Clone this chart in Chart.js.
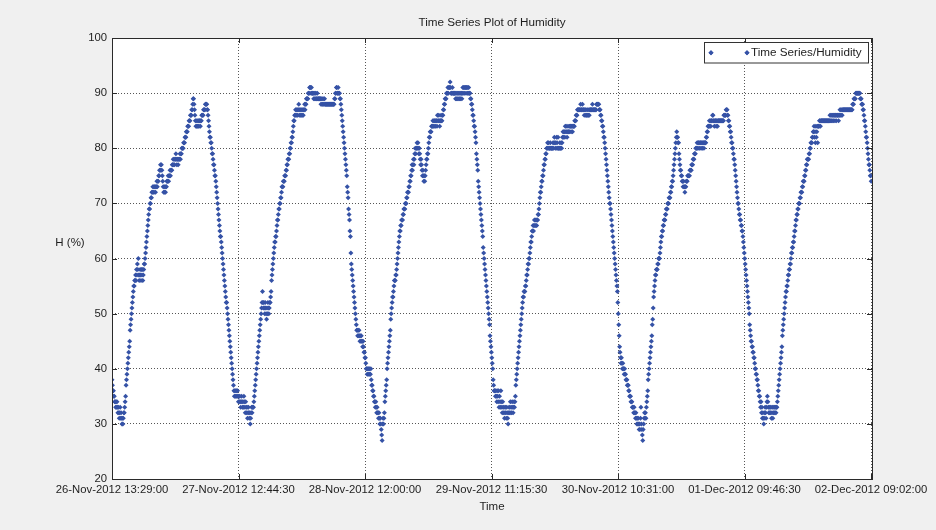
<!DOCTYPE html>
<html>
<head>
<meta charset="utf-8">
<title>Time Series Plot of Humidity</title>
<script src="https://cdn.jsdelivr.net/npm/chart.js@4.4.1/dist/chart.umd.min.js"></script>
<style>
  html, body { margin: 0; padding: 0; background: #f0f0f0; }
  canvas { display: block; }
</style>
</head>
<body>
<canvas id="chart" width="936" height="530"></canvas>
<script>
// Text shown on the figure
const TITLE = 'Time Series Plot of Humidity';
const X_TITLE = 'Time';
const Y_TITLE = 'H (%)';
const SERIES_LABEL = 'Time Series/Humidity';

// Logger settings: one humidity reading every 5 minutes, starting at the first tick
const SAMPLE_MINUTES = 5;
const AXIS_END = '02-Dec-2012 09:13:00';

// Date ticks on the time axis
const tickLabels = [
  '26-Nov-2012 13:29:00',
  '27-Nov-2012 12:44:30',
  '28-Nov-2012 12:00:00',
  '29-Nov-2012 11:15:30',
  '30-Nov-2012 10:31:00',
  '01-Dec-2012 09:46:30',
  '02-Dec-2012 09:02:00'
];

// Y axis range (%)
const yLimits = [20, 100];
const yStep = 10;

// Relative humidity (%), one row per hour of logging (12 readings each)
const humidity = [
  38,37,36,36,35,35,34,34,33,34,33,34,
  33,32,33,32,31,32,33,31,32,31,30,31,
  30,31,32,32,33,34,35,37,38,39,40,41,
  42,43,44,45,47,48,49,50,51,52,53,54,
  55,55,56,56,57,56,58,57,59,58,60,57,
  56,57,58,57,56,58,57,58,56,57,58,59,
  59,60,61,62,63,64,65,66,67,68,69,69,
  70,70,71,71,72,72,73,72,73,72,73,73,
  72,73,73,74,73,74,74,75,75,76,76,77,
  76,77,76,75,74,73,72,73,72,73,72,73,
  73,74,74,74,75,74,75,75,76,75,76,76,
  76,77,77,78,77,78,77,78,78,79,78,77,
  78,78,77,78,78,78,79,78,79,79,80,80,
  80,80,81,81,81,82,82,82,83,83,83,84,
  84,84,85,85,85,86,86,86,87,87,88,89,
  89,88,87,86,85,84,85,84,84,85,84,85,
  84,85,85,84,85,85,86,86,86,86,87,87,
  87,87,88,88,88,88,87,87,86,85,84,83,
  82,82,81,81,80,79,79,78,77,77,76,75,
  75,74,73,72,71,70,69,68,67,66,65,64,
  64,63,62,61,60,59,58,57,56,55,54,53,
  52,52,51,50,49,48,47,46,45,44,43,42,
  41,40,39,38,37,36,35,36,35,36,35,36,
  35,36,35,34,35,34,35,34,33,34,35,34,
  33,34,33,35,34,33,32,34,33,32,33,31,
  32,33,32,31,32,30,31,32,33,32,33,33,
  33,34,35,36,37,38,39,40,41,42,43,44,
  45,46,47,48,49,50,51,52,54,52,51,52,
  51,50,52,51,50,49,51,50,52,51,50,51,
  52,52,53,54,56,57,58,59,60,61,62,63,
  63,64,64,65,66,67,67,68,69,69,70,70,
  71,71,72,73,73,73,74,74,74,75,75,75,
  76,76,77,77,78,78,78,79,79,80,80,81,
  81,82,82,83,84,85,85,86,86,87,86,87,
  86,87,86,87,88,87,86,87,86,87,86,87,
  86,87,86,87,87,88,87,88,88,89,89,89,
  89,90,90,90,91,91,91,90,91,90,90,90,
  90,89,90,89,90,89,90,89,89,90,89,89,
  89,89,89,89,89,88,89,88,89,88,88,89,
  88,89,88,88,88,88,88,88,88,88,88,88,
  88,88,88,88,88,88,88,88,88,88,88,89,
  89,90,90,91,91,90,90,91,90,90,90,89,
  89,88,87,86,85,84,83,82,81,80,79,78,
  77,76,75,73,72,71,69,68,67,65,64,61,
  59,58,57,56,55,54,53,52,51,50,49,48,
  47,47,46,47,46,47,46,45,46,45,46,45,
  45,44,45,44,43,43,42,42,41,40,40,39,
  40,39,40,39,40,39,39,40,38,37,37,36,
  36,35,35,34,34,33,34,33,32,33,32,32,
  31,32,31,30,31,30,29,28,27,30,31,30,
  31,32,34,35,36,37,38,40,41,42,43,44,
  45,46,47,49,50,51,52,53,53,54,55,56,
  56,56,57,57,58,59,60,61,62,63,64,65,
  65,66,66,67,67,67,68,68,69,69,69,70,
  70,70,71,71,72,72,72,73,73,74,74,75,
  75,76,77,76,77,78,77,78,79,80,79,80,
  80,81,80,81,80,79,80,79,78,77,78,77,
  76,75,76,75,74,75,74,75,76,77,78,78,
  79,79,80,81,82,82,83,83,83,84,84,84,
  85,84,85,84,85,85,84,85,85,84,86,85,
  85,86,85,84,85,85,86,85,85,86,86,87,
  87,88,88,89,89,89,90,90,90,91,90,91,
  91,91,92,91,90,90,90,91,90,90,90,90,
  90,90,89,90,89,90,89,90,90,89,90,89,
  90,89,90,90,89,90,91,90,91,91,90,91,
  91,90,91,91,90,91,90,91,90,90,90,89,
  89,88,88,87,86,86,85,84,84,83,82,81,
  79,78,77,76,74,73,72,71,70,69,68,67,
  66,65,64,62,61,60,59,58,57,56,55,54,
  53,52,51,50,49,48,46,45,44,43,42,41,
  40,38,37,36,36,36,35,36,35,34,36,35,
  34,36,33,35,34,33,36,34,33,32,34,33,
  32,33,31,32,33,32,31,33,32,31,30,32,
  33,32,33,34,32,33,32,34,33,32,33,34,
  33,34,35,37,38,39,40,41,42,43,44,45,
  46,47,48,49,50,51,52,53,53,54,54,54,
  55,55,56,57,57,58,59,59,60,60,61,62,
  63,63,64,65,65,66,65,66,67,66,67,66,
  67,66,67,67,68,68,69,70,71,72,72,73,
  74,74,75,75,76,77,77,78,78,79,79,80,
  80,81,80,81,80,80,80,81,80,80,80,80,
  80,81,80,81,82,81,80,81,80,82,81,80,
  82,80,80,80,81,80,80,81,80,81,82,83,
  82,83,83,82,84,83,84,83,82,83,84,83,
  83,84,83,84,84,83,84,84,83,84,84,84,
  84,85,85,85,86,86,86,87,87,87,87,87,
  87,87,88,87,87,87,88,87,87,87,86,87,
  87,86,87,86,86,87,86,86,87,86,87,87,
  87,87,87,87,88,87,87,87,87,87,87,87,
  87,88,88,88,88,88,88,87,87,87,86,86,
  85,85,84,84,83,82,82,81,80,79,78,77,
  76,75,74,73,72,71,70,70,69,68,67,66,
  65,64,63,62,61,60,59,58,57,56,55,54,
  52,50,48,46,44,43,42,41,42,41,40,41,
  40,40,39,40,39,39,38,38,38,37,37,37,
  36,36,35,35,35,34,34,34,33,33,33,32,
  33,32,32,31,32,31,30,31,30,31,30,29,
  30,29,31,33,30,29,28,27,29,30,31,32,
  31,32,31,33,34,35,36,38,39,40,41,42,
  43,44,45,46,48,49,51,53,54,55,56,57,
  57,58,58,58,59,59,60,60,60,61,62,63,
  64,64,65,65,66,66,67,67,67,68,68,69,
  69,69,70,70,70,71,71,71,72,72,73,73,
  74,74,75,76,77,78,79,80,81,82,83,82,
  82,81,81,79,78,77,76,76,75,75,74,74,
  73,74,73,73,72,73,73,74,74,74,75,75,
  75,75,75,76,76,76,76,77,77,77,78,78,
  78,79,79,79,80,80,80,81,80,81,81,80,
  81,80,81,81,80,81,81,80,81,81,80,81,
  81,81,81,82,82,83,83,84,84,84,85,84,
  85,84,85,85,85,86,86,85,85,84,85,85,
  85,84,85,85,84,85,85,85,85,85,85,85,
  85,85,85,85,85,85,86,86,86,86,86,87,
  87,87,86,86,85,85,84,84,83,83,82,81,
  81,80,80,79,78,78,77,76,75,74,73,72,
  71,70,70,69,68,68,67,67,66,66,65,65,
  64,63,62,61,60,59,58,57,56,55,54,53,
  52,51,50,48,47,46,45,45,44,44,43,43,
  42,42,41,40,40,39,39,38,38,37,36,36,
  35,35,34,33,34,32,33,31,32,31,30,31,
  32,33,32,31,33,34,35,34,33,32,33,32,
  33,32,33,31,32,33,31,32,33,32,33,32,
  33,32,33,33,34,35,36,37,38,39,40,41,
  42,43,44,46,47,48,49,50,51,52,53,54,
  54,55,55,56,57,57,58,58,59,59,60,61,
  61,62,62,63,63,64,65,65,66,67,67,68,
  68,69,69,70,70,70,71,71,72,72,72,73,
  73,74,74,74,75,75,76,76,77,77,78,78,
  78,78,79,79,80,80,81,81,81,82,82,83,
  83,84,82,83,81,84,82,83,84,81,84,84,
  84,85,85,84,85,85,85,85,85,85,85,85,
  85,85,85,85,85,85,85,85,85,85,85,85,
  86,85,86,85,86,85,86,86,85,86,86,85,
  86,86,85,86,86,86,86,85,86,86,87,86,
  87,86,87,86,87,87,87,87,87,87,87,87,
  87,87,87,87,87,87,87,87,87,87,87,87,
  87,87,88,88,88,89,89,89,89,90,90,90,
  90,90,90,90,90,90,90,89,89,89,88,88,
  88,87,87,86,85,85,84,83,82,82,81,80,
  79,78,77,77,76,75,75,74
];

// ---- time handling ----
const MONTHS = { Jan: 0, Feb: 1, Mar: 2, Apr: 3, May: 4, Jun: 5, Jul: 6, Aug: 7, Sep: 8, Oct: 9, Nov: 10, Dec: 11 };
function parseStamp(s) {
  const [day, mon, rest] = s.split('-');
  const [year, clock] = rest.split(' ');
  const [hh, mm, ss] = clock.split(':').map(Number);
  return Date.UTC(Number(year), MONTHS[mon], Number(day), hh, mm, ss);
}
const startMs = parseStamp(tickLabels[0]);
const toHours = ms => (ms - startMs) / 3600000;
const tickHours = tickLabels.map(s => toHours(parseStamp(s)));
const xEnd = toHours(parseStamp(AXIS_END));
const points = humidity.map((v, i) => ({ x: i * SAMPLE_MINUTES / 60, y: v }));

// ---- styling ----
const FONT_FAMILY = '"Liberation Sans", Arial, Helvetica, sans-serif';
const TEXT_COLOR = '#1e1e1e';
const AXIS_COLOR = '#2a2a2a';
const GRID_COLOR = 'rgba(30,30,30,0.75)';
const MARKER_COLOR = '#3552a6';
const FIGURE_BG = '#f0f0f0';
const MARKER_RADIUS = 2.5;

// Figure chrome: backgrounds, boxed axes with inward ticks, titles and legend
const figureChrome = {
  id: 'figureChrome',
  beforeDraw(chart) {
    const { ctx, chartArea: a } = chart;
    ctx.save();
    ctx.fillStyle = FIGURE_BG;
    ctx.fillRect(0, 0, chart.width, chart.height);
    ctx.fillStyle = '#ffffff';
    ctx.fillRect(a.left, a.top, a.right - a.left, a.bottom - a.top);
    ctx.restore();
  },
  afterDatasetsDraw(chart) {
    const { ctx, chartArea: a, scales } = chart;
    const al = v => Math.round(v) + 0.5;
    ctx.save();
    ctx.strokeStyle = AXIS_COLOR;
    ctx.lineWidth = 1;
    ctx.setLineDash([]);
    ctx.strokeRect(al(a.left), al(a.top), Math.round(a.right) - Math.round(a.left), Math.round(a.bottom) - Math.round(a.top));
    const TL = 5;
    ctx.beginPath();
    scales.x.ticks.forEach(t => {
      const px = al(scales.x.getPixelForValue(t.value));
      ctx.moveTo(px, a.bottom); ctx.lineTo(px, a.bottom - TL);
      ctx.moveTo(px, a.top); ctx.lineTo(px, a.top + TL);
    });
    scales.y.ticks.forEach(t => {
      const py = al(scales.y.getPixelForValue(t.value));
      ctx.moveTo(a.left, py); ctx.lineTo(a.left + TL, py);
      ctx.moveTo(a.right, py); ctx.lineTo(a.right - TL, py);
    });
    ctx.stroke();
    ctx.restore();
  },
  afterDraw(chart) {
    const { ctx, chartArea: a } = chart;
    const cx = (a.left + a.right) / 2;
    const cy = (a.top + a.bottom) / 2;
    ctx.save();
    ctx.fillStyle = TEXT_COLOR;
    ctx.textAlign = 'center';
    ctx.textBaseline = 'middle';
    ctx.font = '11.7px ' + FONT_FAMILY;
    ctx.fillText(TITLE, cx, a.top - 15.5);
    ctx.font = '11.5px ' + FONT_FAMILY;
    ctx.fillText(X_TITLE, cx, a.bottom + 28);
    ctx.fillText(Y_TITLE, a.left - 42, cy - 16);

    // legend box in the upper right corner of the axes
    const ds = chart.data.datasets[0];
    const boxW = 164, boxH = 20.5;
    const bx = Math.round(a.right - 4 - boxW) + 0.5;
    const by = Math.round(a.top + 4) + 0.5;
    ctx.fillStyle = '#ffffff';
    ctx.fillRect(bx, by, boxW, boxH);
    ctx.strokeStyle = '#333333';
    ctx.lineWidth = 1;
    ctx.strokeRect(bx, by, boxW, boxH);
    const my = by + boxH / 2;
    ctx.fillStyle = MARKER_COLOR;
    [bx + 6.5, bx + 42.5].forEach(mx => {
      Chart.helpers.drawPoint(ctx, { pointStyle: 'rectRot', radius: MARKER_RADIUS, rotation: 0, borderWidth: 0 }, mx, my);
      ctx.fill();
    });
    ctx.fillStyle = TEXT_COLOR;
    ctx.textAlign = 'left';
    ctx.font = '11.7px ' + FONT_FAMILY;
    ctx.fillText(ds.label, bx + 46.5, my + 0.5);
    ctx.restore();
  }
};

const tickFont = { family: FONT_FAMILY, size: 11.3 };

new Chart(document.getElementById('chart').getContext('2d'), {
  type: 'scatter',
  data: {
    datasets: [{
      label: SERIES_LABEL,
      data: points,
      showLine: false,
      pointStyle: 'rectRot',
      pointRadius: MARKER_RADIUS,
      pointHoverRadius: MARKER_RADIUS,
      pointBackgroundColor: MARKER_COLOR,
      pointBorderColor: MARKER_COLOR,
      pointBorderWidth: 0
    }]
  },
  options: {
    responsive: false,
    animation: false,
    devicePixelRatio: 1,
    events: [],
    layout: { padding: { left: 0, right: 64, top: 38, bottom: 0 } },
    plugins: {
      legend: { display: false },
      title: { display: false },
      tooltip: { enabled: false }
    },
    scales: {
      x: {
        type: 'linear',
        position: 'bottom',
        min: 0,
        max: xEnd,
        afterFit(scale) { scale.height = 51; },
        afterBuildTicks(scale) { scale.ticks = tickHours.map(v => ({ value: v })); },
        ticks: {
          autoSkip: false,
          maxRotation: 0,
          minRotation: 0,
          padding: 4,
          color: TEXT_COLOR,
          font: tickFont,
          callback: (value, index) => tickLabels[index]
        },
        grid: { drawTicks: false, color: GRID_COLOR, lineWidth: 1 },
        border: { display: false, dash: [1, 2] }
      },
      y: {
        type: 'linear',
        position: 'left',
        min: yLimits[0],
        max: yLimits[1],
        afterFit(scale) { scale.width = 112; },
        ticks: {
          stepSize: yStep,
          padding: 5,
          color: TEXT_COLOR,
          font: tickFont
        },
        grid: { drawTicks: false, color: GRID_COLOR, lineWidth: 1 },
        border: { display: false, dash: [1, 2] }
      }
    }
  },
  plugins: [figureChrome]
});
</script>
</body>
</html>
